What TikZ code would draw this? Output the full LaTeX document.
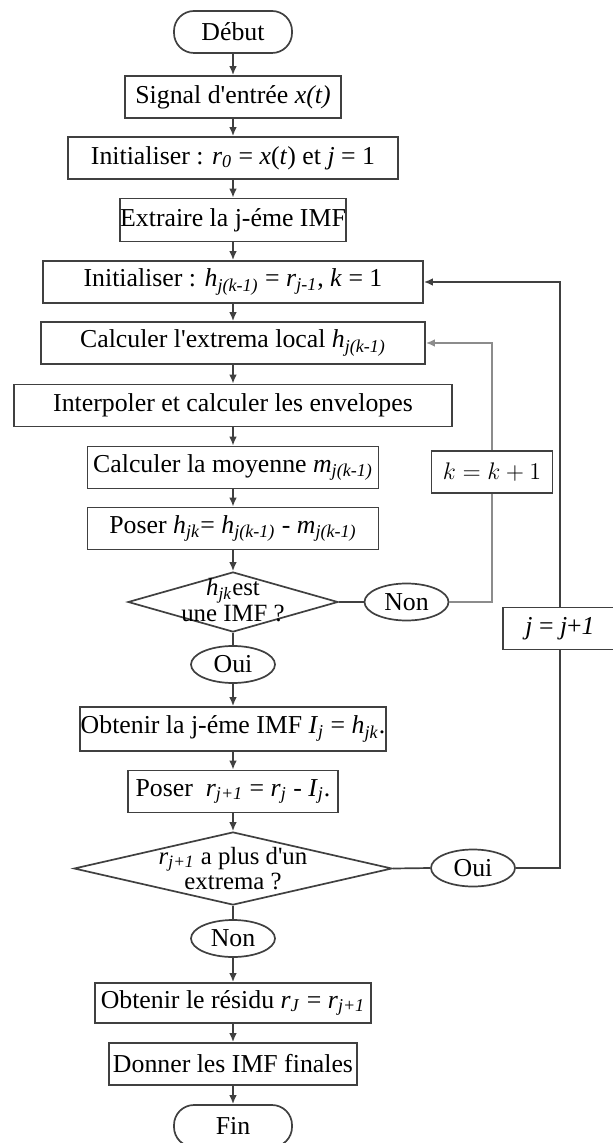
\documentclass[tikz,border=0pt]{standalone}
\usepackage{fontspec}
\setmainfont{Liberation Serif}
\usetikzlibrary{shapes.geometric,arrows.meta}

\begin{document}
\begin{tikzpicture}[
    x=0.5pt, y=-0.5pt,
    >={Latex[length=4.5pt,width=3.8pt]},
    flow/.style={draw=black!75, line width=0.85pt},
    box/.style={rectangle, draw=black!75, line width=0.85pt, minimum height=21pt,
                inner sep=0pt, font=\fontsize{12.9}{15}\selectfont},
    term/.style={box, rounded corners=10pt, minimum width=59pt},
    test/.style={diamond, draw=black!75, line width=0.85pt, inner sep=0pt},
    answer/.style={ellipse, draw=black!75, line width=0.85pt, minimum width=42pt,
                   minimum height=18.5pt, inner sep=0pt, font=\fontsize{12.9}{15}\selectfont},
    dtext/.style={align=center, inner sep=0pt, font=\fontsize{12.4}{9.5}\selectfont}
]
    \useasboundingbox (0,0) rectangle (613,1143);

    \node[term] (debut) at (233,32) {Début};
    \node[box, minimum width=108pt] (signal) at (233,97) {Signal d\textquotesingle entrée \textit{x(t)}};
    \node[box, minimum width=165pt] (init0) at (233,158) {Initialiser : \textit{r}\textsubscript{\textit{0}} = \textit{x}(\textit{t}) et \textit{j} = 1};
    \node[box, minimum width=112pt, minimum height=21.5pt] (extraire) at (233,220) {Extraire la j-éme IMF};
    \node[box, minimum width=190pt] (inith) at (233,282) {Initialiser : \textit{h}\textsubscript{\textit{j(k-1)}} = \textit{r}\textsubscript{\textit{j-1}}, \textit{k} = 1};
    \node[box, minimum width=192pt] (extrema) at (233,343) {Calculer l\textquotesingle extrema local \textit{h}\textsubscript{\textit{j(k-1)}}};
    \node[box, minimum width=219pt] (interp) at (233,405.5) {Interpoler et calculer les envelopes};
    \node[box, minimum width=145.5pt] (moyenne) at (233,467.5) {Calculer la moyenne \textit{m}\textsubscript{\textit{j(k-1)}}};
    \node[box, minimum width=145.5pt] (poserh) at (233,528.5) {Poser \textit{h}\textsubscript{\textit{jk}}= \textit{h}\textsubscript{\textit{j(k-1)}} - \textit{m}\textsubscript{\textit{j(k-1)}}};
    \node[test, minimum width=105pt, minimum height=30pt] (test1) at (233,602) {};
    \node[dtext] (test1txt) at ([yshift=1pt]test1.center) {\textit{h}\textsubscript{\textit{jk}}est\\une IMF ?};
    \node[answer] (non1) at (406.5,602) {Non};
    \node[box, minimum width=60.5pt] (kbox) at (492,472) {$k = k + 1$};
    \node[answer] (oui1) at (233,664.5) {Oui};
    \node[box, minimum width=57pt] (jbox) at (560,628.5) {\textit{j} = \textit{j}+\textit{1}};
    \node[box, minimum width=153pt, minimum height=22pt] (imf) at (233,729) {Obtenir la j-éme IMF \textit{I}\textsubscript{\textit{j}} = \textit{h}\textsubscript{\textit{jk}}.};
    \node[box, minimum width=105pt] (poserr) at (233,791.5) {Poser \ \textit{r}\textsubscript{\textit{j+1}} = \textit{r}\textsubscript{\textit{j}} - \textit{I}\textsubscript{\textit{j}}.};
    \node[test, minimum width=159pt, minimum height=36.5pt] (test2) at (233,868.5) {};
    \node[dtext] (test2txt) at (test2.center) {\textit{r}\textsubscript{\textit{j+1}} a plus d\textquotesingle un\\extrema ?};
    \node[answer] (oui2) at (473,868) {Oui};
    \node[answer] (non2) at (233,938.5) {Non};
    \node[box, minimum width=138pt, minimum height=20pt] (residu) at (233,1003) {Obtenir le résidu \textit{r}\textsubscript{\textit{J}} = \textit{r}\textsubscript{\textit{j+1}}};
    \node[box, minimum width=124pt] (donner) at (233,1064) {Donner les IMF finales};
    \node[term] (fin) at (233,1126) {Fin};

    \draw[flow, ->] (debut) -- (signal);
    \draw[flow, ->] (signal) -- (init0);
    \draw[flow, ->] (init0) -- (extraire);
    \draw[flow, ->] (extraire) -- (inith);
    \draw[flow, ->] (inith) -- (extrema);
    \draw[flow, ->] (extrema) -- (interp);
    \draw[flow, ->] (interp) -- (moyenne);
    \draw[flow, ->] (moyenne) -- (poserh);
    \draw[flow, ->] (poserh) -- (test1);
    \draw[flow] (test1.east) -- (non1.west);
    \draw[flow] (test1.south) -- (oui1.north);
    \draw[flow, ->] (oui1) -- (imf);
    \draw[flow, ->] (imf) -- (poserr);
    \draw[flow, ->] (poserr) -- (test2);
    \draw[flow] (test2.east) -- (oui2.west);
    \draw[flow] (test2.south) -- (non2.north);
    \draw[flow, ->] (non2) -- (residu);
    \draw[flow, ->] (residu) -- (donner);
    \draw[flow, ->] (donner) -- (fin);

    \draw[flow, draw=black!45] (non1.east) -| (kbox.south);
    \draw[flow, draw=black!45, ->] (kbox.north) |- (extrema.east);
    \draw[flow] (oui2.east) -| (jbox.south);
    \draw[flow, ->] (jbox.north) |- (inith.east);
\end{tikzpicture}
\end{document}
